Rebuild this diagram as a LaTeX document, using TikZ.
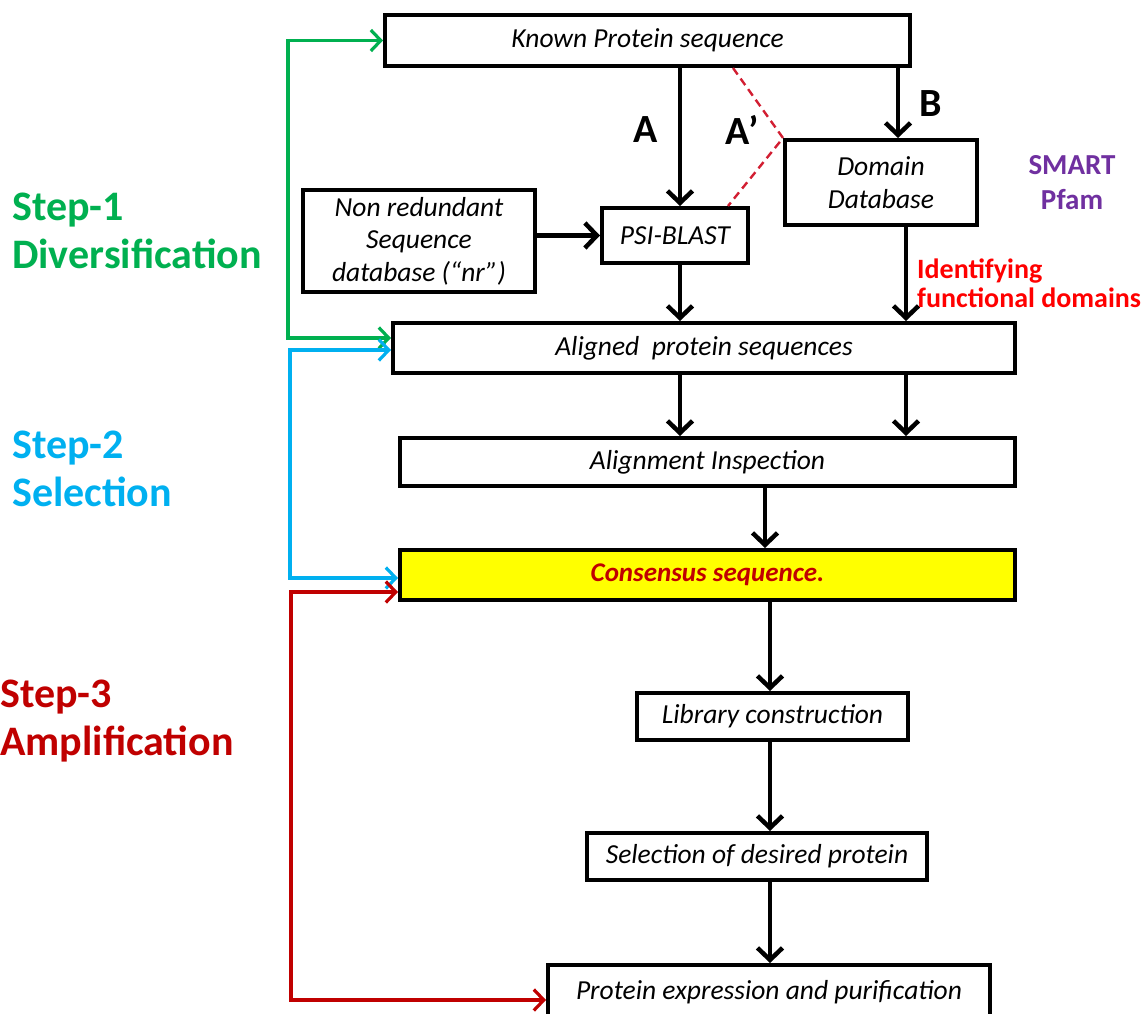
\documentclass[tikz,border=0pt]{standalone}
\usepackage{fontspec}
\setmainfont{Carlito}
\usetikzlibrary{arrows.meta,calc}
\definecolor{sgreen}{RGB}{0,176,80}
\definecolor{sblue}{RGB}{0,176,240}
\definecolor{sred}{RGB}{192,0,0}
\definecolor{spurple}{RGB}{112,48,160}
\definecolor{fred}{RGB}{255,0,0}
\definecolor{dred}{RGB}{210,30,50}
\definecolor{yel}{RGB}{255,255,0}
\begin{document}
\begin{tikzpicture}[x=1pt,y=-1pt,
 box/.style={draw, line width=4pt, inner sep=0pt, align=center,
   font=\fontsize{27.5}{32.5}\selectfont\itshape},
 arr/.style={line width=4.5pt, -{Straight Barb[length=12pt,width=25pt]}},
 carr/.style={line width=3.2pt, {Straight Barb[length=10pt,width=21pt]}-{Straight Barb[length=10pt,width=21pt]}},
 steplbl/.style={anchor=west, align=left, inner sep=0pt, font=\fontsize{42}{48}\selectfont\bfseries},
 letter/.style={font=\fontsize{40}{40}\selectfont\bfseries, inner sep=0pt}
]
\useasboundingbox (0,0) rectangle (1148,1014);
\fill[white] (0,0) rectangle (1148,1014);

% boxes
\node[box, minimum width=525pt, minimum height=51pt] (kp) at (647.5,40.5) {Known Protein sequence};
\node[box, minimum width=192pt, minimum height=85pt] (dd) at (881,182.5) {Domain\\Database};
\node[box, minimum width=232pt, minimum height=102pt] (nr) at (419,241) {Non redundant\\Sequence\\database (“nr”)};
\node[box, minimum width=146pt, minimum height=55pt] (psi) at (675,235.5) {PSI-BLAST};
\node[box, minimum width=622pt, minimum height=50pt] (al) at (704,348) {Aligned~ protein sequences};
\node[box, minimum width=615pt, minimum height=48pt] (ai) at (707.5,462) {Alignment Inspection};
\node[box, minimum width=615pt, minimum height=50pt, fill=yel, text=sred, font=\fontsize{27}{32}\selectfont\bfseries\itshape] (cs) at (707.5,575) {Consensus sequence.};
\node[box, minimum width=271pt, minimum height=47pt] (lc) at (772.5,716.5) {Library construction};
\node[box, minimum width=340pt, minimum height=47pt] (sd) at (757,856.5) {Selection of desired protein};
\node[box, minimum width=442pt, minimum height=54pt] (pe) at (769,992) {Protein expression and purification};

% x positions of the vertical connectors
\coordinate (xa) at (680,0);
\coordinate (xb) at (898,0);
\coordinate (xd) at (906,0);
\coordinate (xc) at (765,0);
\coordinate (xl) at (770,0);
\coordinate (xq1) at (733,0);
\coordinate (xq2) at (728,0);
\coordinate (gx) at (288,0);
\coordinate (bx) at (290,0);
\coordinate (rx) at (291,0);

% black connectors
\draw[arr] (kp.south -| xa) -- (psi.north -| xa);
\draw[arr] (kp.south -| xb) -- (dd.north -| xb);
\draw[arr] (nr.east |- psi.west) -- (psi.west);
\draw[arr] (psi.south -| xa) -- (al.north -| xa);
\draw[arr] (dd.south -| xd) -- (al.north -| xd);
\draw[arr] (al.south -| xa) -- (ai.north -| xa);
\draw[arr] (al.south -| xd) -- (ai.north -| xd);
\draw[arr] (ai.south -| xc) -- (cs.north -| xc);
\draw[arr] (cs.south -| xl) -- (lc.north -| xl);
\draw[arr] (lc.south -| xl) -- (sd.north -| xl);
\draw[arr] (sd.south -| xl) -- (pe.north -| xl);

% dashed A'
\draw[dred, line width=2.4pt, dash pattern=on 8pt off 5pt]
  (kp.south -| xq1) -- (dd.north west) -- (psi.north -| xq2);

% letters
\node[letter] (la) at (646,130) {A};
\node[letter] (lap) at (742,130) {A’};
\node[letter] (lb) at (931,104) {B};

% side labels
\node[font=\fontsize{29}{35}\selectfont\bfseries, text=spurple, align=center, inner sep=0pt] (sm) at (1072,183) {SMART\\Pfam};
\node[font=\fontsize{28}{29}\selectfont\bfseries, text=fred, align=left, anchor=west, inner sep=0pt] (idf) at (917,283) {Identifying\\functional domains};

% step labels
\node[steplbl, text=sgreen] (s1) at (12,231) {Step-1\\Diversification};
\node[steplbl, text=sblue] (s2) at (12,469) {Step-2\\Selection};
\node[steplbl, text=sred] (s3) at (0,721) {Step-3\\Amplification};

% coloured step connectors
\draw[carr, sgreen] ([yshift=10pt]al.west) -| (kp.west -| gx) -- (kp.west);
\draw[carr, sblue] ([yshift=-2pt]al.west) -| ([yshift=-3pt]cs.west -| bx) -- ([yshift=-3pt]cs.west);
\draw[carr, sred] ([yshift=-17pt]cs.west) -| ([yshift=-8pt]pe.west -| rx) -- ([yshift=-8pt]pe.west);
\end{tikzpicture}
\end{document}
